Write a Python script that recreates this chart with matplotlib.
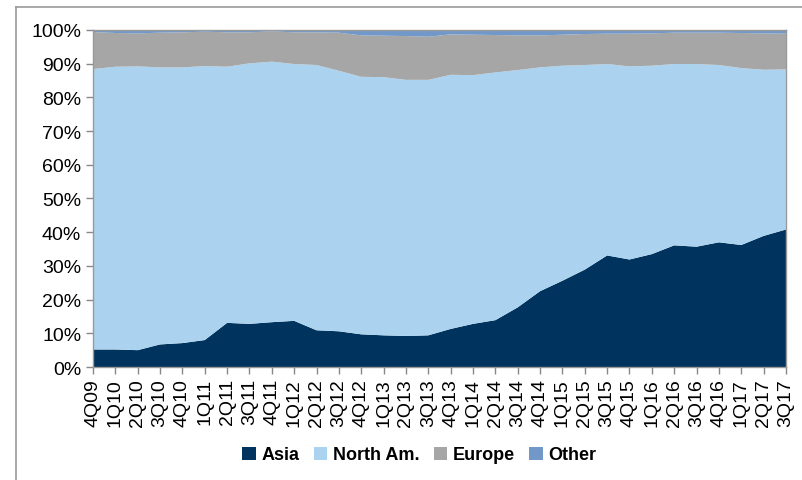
import matplotlib
matplotlib.use("Agg")
import matplotlib.pyplot as plt
from matplotlib.lines import Line2D
from matplotlib.patches import Patch
import numpy as np

plt.rcParams['font.family'] = ['Liberation Sans', 'DejaVu Sans']

quarters = ['4Q09', '1Q10', '2Q10', '3Q10', '4Q10', '1Q11', '2Q11', '3Q11',
            '4Q11', '1Q12', '2Q12', '3Q12', '4Q12', '1Q13', '2Q13', '3Q13',
            '4Q13', '1Q14', '2Q14', '3Q14', '4Q14', '1Q15', '2Q15', '3Q15',
            '4Q15', '1Q16', '2Q16', '3Q16', '4Q16', '1Q17', '2Q17', '3Q17']

# shares in %
asia = [5.2, 5.2, 5.0, 6.7, 7.1, 8.0, 13.1, 12.8, 13.3, 13.7, 10.9, 10.6,
        9.7, 9.4, 9.2, 9.4, 11.3, 12.8, 13.9, 17.7, 22.5, 25.6, 28.9, 33.1,
        31.9, 33.5, 36.1, 35.7, 37.0, 36.2, 38.9, 40.8]
north_am = [83.2, 83.9, 84.2, 82.2, 81.8, 81.3, 76.0, 77.3, 77.3, 76.2, 78.7, 77.3,
            76.4, 76.6, 76.0, 75.8, 75.4, 73.8, 73.5, 70.4, 66.4, 63.8, 60.7, 56.8,
            57.3, 55.9, 53.8, 54.2, 52.6, 52.5, 49.3, 47.5]
europe = [11.0, 10.0, 9.8, 10.3, 10.4, 10.2, 10.2, 9.2, 9.0, 9.4, 9.7, 11.3,
          12.3, 12.3, 13.0, 12.8, 12.0, 12.0, 11.1, 10.3, 9.5, 9.2, 9.2, 9.0,
          9.7, 9.6, 9.3, 9.3, 9.6, 10.4, 10.8, 10.6]
other = [100 - a - n - e for a, n, e in zip(asia, north_am, europe)]

series = [asia, north_am, europe, other]
names = ['Asia', 'North Am.', 'Europe', 'Other']
colors = ['#00345E', '#ABD3EF', '#A6A6A6', '#7198C8']

fig = plt.figure(figsize=(8.03, 4.81), dpi=100)
ax = fig.add_axes([0.1158, 0.2349, 0.8630, 0.7007])

x = np.arange(len(quarters))
ax.stackplot(x, *series, colors=colors, linewidth=0)

ax.set_xlim(0, len(quarters) - 1)
ax.set_ylim(0, 100)
ax.set_yticks(np.arange(0, 101, 10))
ax.set_yticklabels([f'{v}%' for v in range(0, 101, 10)], fontsize=14)
ax.set_xticks(x)
ax.set_xticklabels(quarters, rotation=90, fontsize=14)
ax.tick_params(axis='both', direction='out', length=5, color='#888888', width=1)
ax.tick_params(axis='x', pad=3)
for s in ax.spines.values():
    s.set_color('#999999')
    s.set_linewidth(1)

# outer chart frame (left and top edges only)
fig.add_artist(Line2D([16 / 803, 16 / 803], [0, 1 - 8 / 481],
                      transform=fig.transFigure, color='#999999', lw=1.2))
fig.add_artist(Line2D([16 / 803, 1], [1 - 8 / 481, 1 - 8 / 481],
                      transform=fig.transFigure, color='#999999', lw=1.2))

handles = [Patch(facecolor=c, edgecolor='none') for c in colors]
leg = fig.legend(handles, names, loc='center', bbox_to_anchor=(0.522, 0.052),
                 ncol=4, frameon=False, handlelength=0.75, handleheight=0.75,
                 handletextpad=0.3, columnspacing=0.8,
                 prop={'weight': 'bold', 'size': 13})

fig.savefig('out.png', dpi=100)
